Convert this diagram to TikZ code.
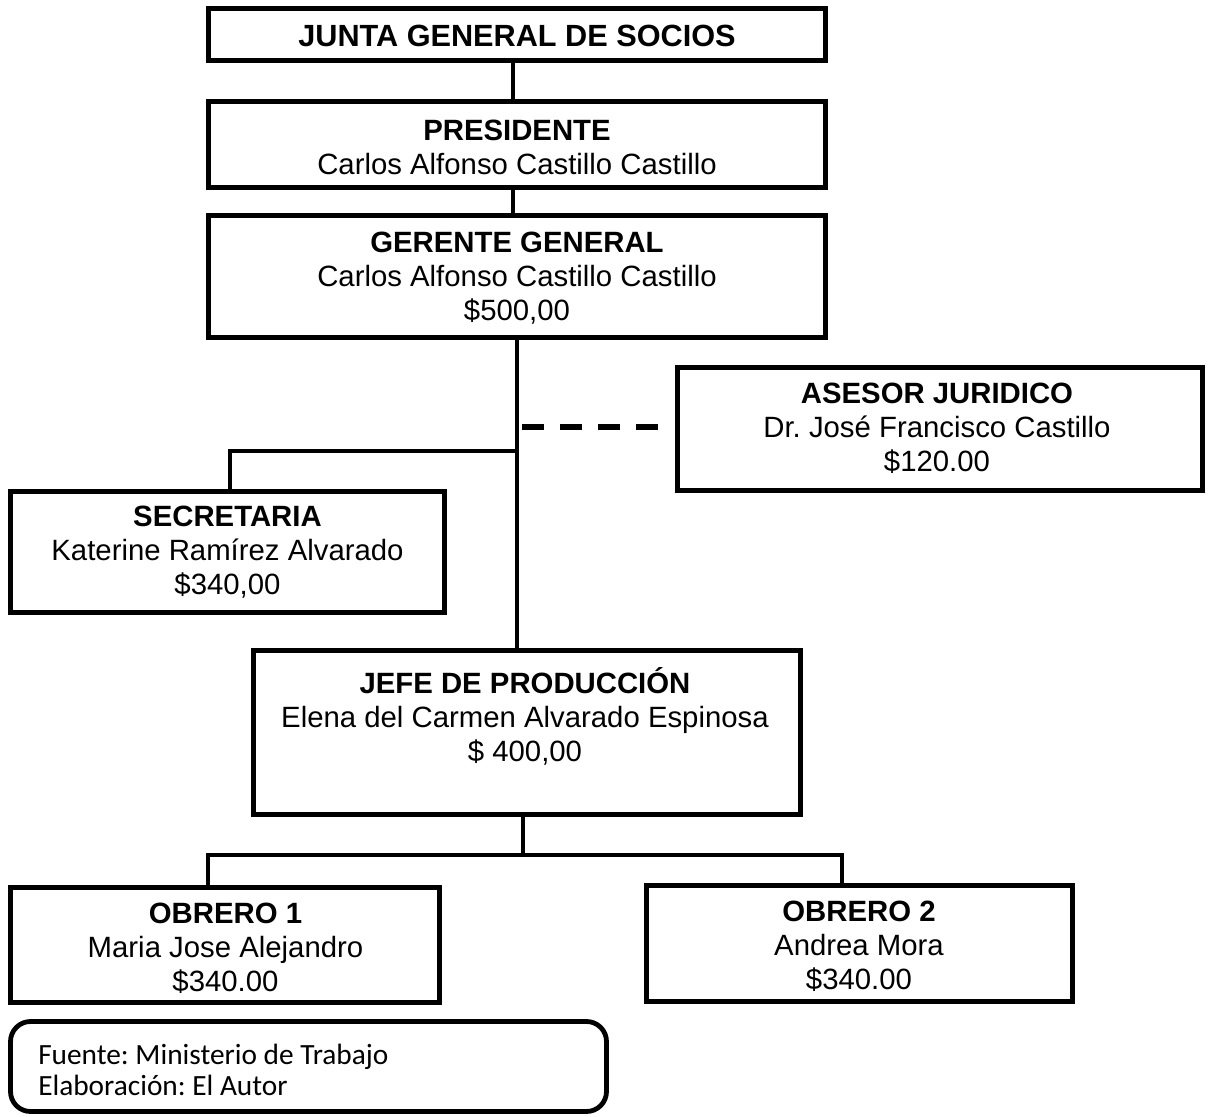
\documentclass[tikz,border=0pt]{standalone}
\usepackage{fontspec}
\setmainfont{Liberation Sans}
\newfontfamily\calib{Carlito}
\frenchspacing
\begin{document}
\begin{tikzpicture}[x=0.75pt,y=-0.75pt,
  txt/.style={align=center,inner sep=0pt,font=\fontsize{22}{25.5}\selectfont},
  box/.style={draw=black,line width=3.6pt,fill=white,inner sep=0pt},
  conn/.style={line width=3.6pt},
  dashconn/.style={line width=4.5pt,dash pattern=on 16.5pt off 12pt}]
\useasboundingbox (0,0) rectangle (1211,1117);
% boxes
\node[box,minimum width=462.75pt,minimum height=39pt] (junta) at (517,34.5) {};
\node[txt,font=\fontsize{23}{26}\selectfont] (juntat) at (517,36) {\textbf{JUNTA GENERAL DE SOCIOS}};
\node[box,minimum width=462.75pt,minimum height=64.5pt] (pres) at (517,144.5) {};
\node[txt] (prest) at (517,147.5) {\textbf{PRESIDENTE}\\Carlos Alfonso Castillo Castillo};
\node[box,minimum width=462.75pt,minimum height=91.5pt] (ger) at (517,276.5) {};
\node[txt] (gert) at (517,278) {\textbf{GERENTE GENERAL}\\Carlos Alfonso Castillo Castillo\\\$500,00};
\node[box,minimum width=393.75pt,minimum height=92.25pt] (ase) at (940,429) {};
\node[txt] (aset) at (937,428.5) {\textbf{ASESOR JURIDICO}\\Dr.\ José Francisco Castillo\\\$120.00};
\node[box,minimum width=325.5pt,minimum height=90.75pt] (sec) at (227.5,552) {};
\node[txt] (sect) at (227.5,552) {\textbf{SECRETARIA}\\Katerine Ramírez Alvarado\\\$340,00};
\node[box,minimum width=410.25pt,minimum height=123pt] (jefe) at (527,732.5) {};
\node[txt] (jefet) at (525,716) {\textbf{JEFE DE PRODUCCIÓN}\\Elena del Carmen Alvarado Espinosa\\\$ 400,00};
\node[box,minimum width=321.75pt,minimum height=86.25pt] (ob1) at (225,945) {};
\node[txt] (ob1t) at (225.5,948) {\textbf{OBRERO 1}\\Maria Jose Alejandro\\\$340.00};
\node[box,minimum width=319.5pt,minimum height=87pt] (ob2) at (859.5,943.5) {};
\node[txt] (ob2t) at (859,946.5) {\textbf{OBRERO 2}\\Andrea Mora\\\$340.00};
\node[box,rounded corners=15pt,minimum width=447pt,minimum height=67.5pt] (fuente) at (308.5,1066.5) {};
\node[anchor=west,align=left,inner sep=0pt,font=\calib\fontsize{22}{23.25}\selectfont] (fuentet) at (38,1070) {Fuente: Ministerio de Trabajo\\Elaboración: El Autor};
% connectors
\draw[conn] ([xshift=-3pt]junta.south) -- ([xshift=-3pt]pres.north);
\draw[conn] ([xshift=-3pt]pres.south) -- ([xshift=-3pt]ger.north);
\draw[conn] (ger.south) -- (ger.south |- jefe.north);
\coordinate (b1) at (517,451);
\coordinate (b1l) at (230,451);
\draw[conn] (b1) -- (b1l) -- (b1l |- sec.north);
\coordinate (d1) at (522,427);
\coordinate (d2) at (658,427);
\draw[dashconn] (d1) -- (d2);
\coordinate (b2) at (523,855);
\coordinate (l1) at (208,855);
\coordinate (l2) at (842,855);
\draw[conn] (b2 |- jefe.south) -- (b2);
\draw[conn] (l1 |- ob1.north) -- (l1) -- (l2) -- (l2 |- ob2.north);
\end{tikzpicture}
\end{document}
